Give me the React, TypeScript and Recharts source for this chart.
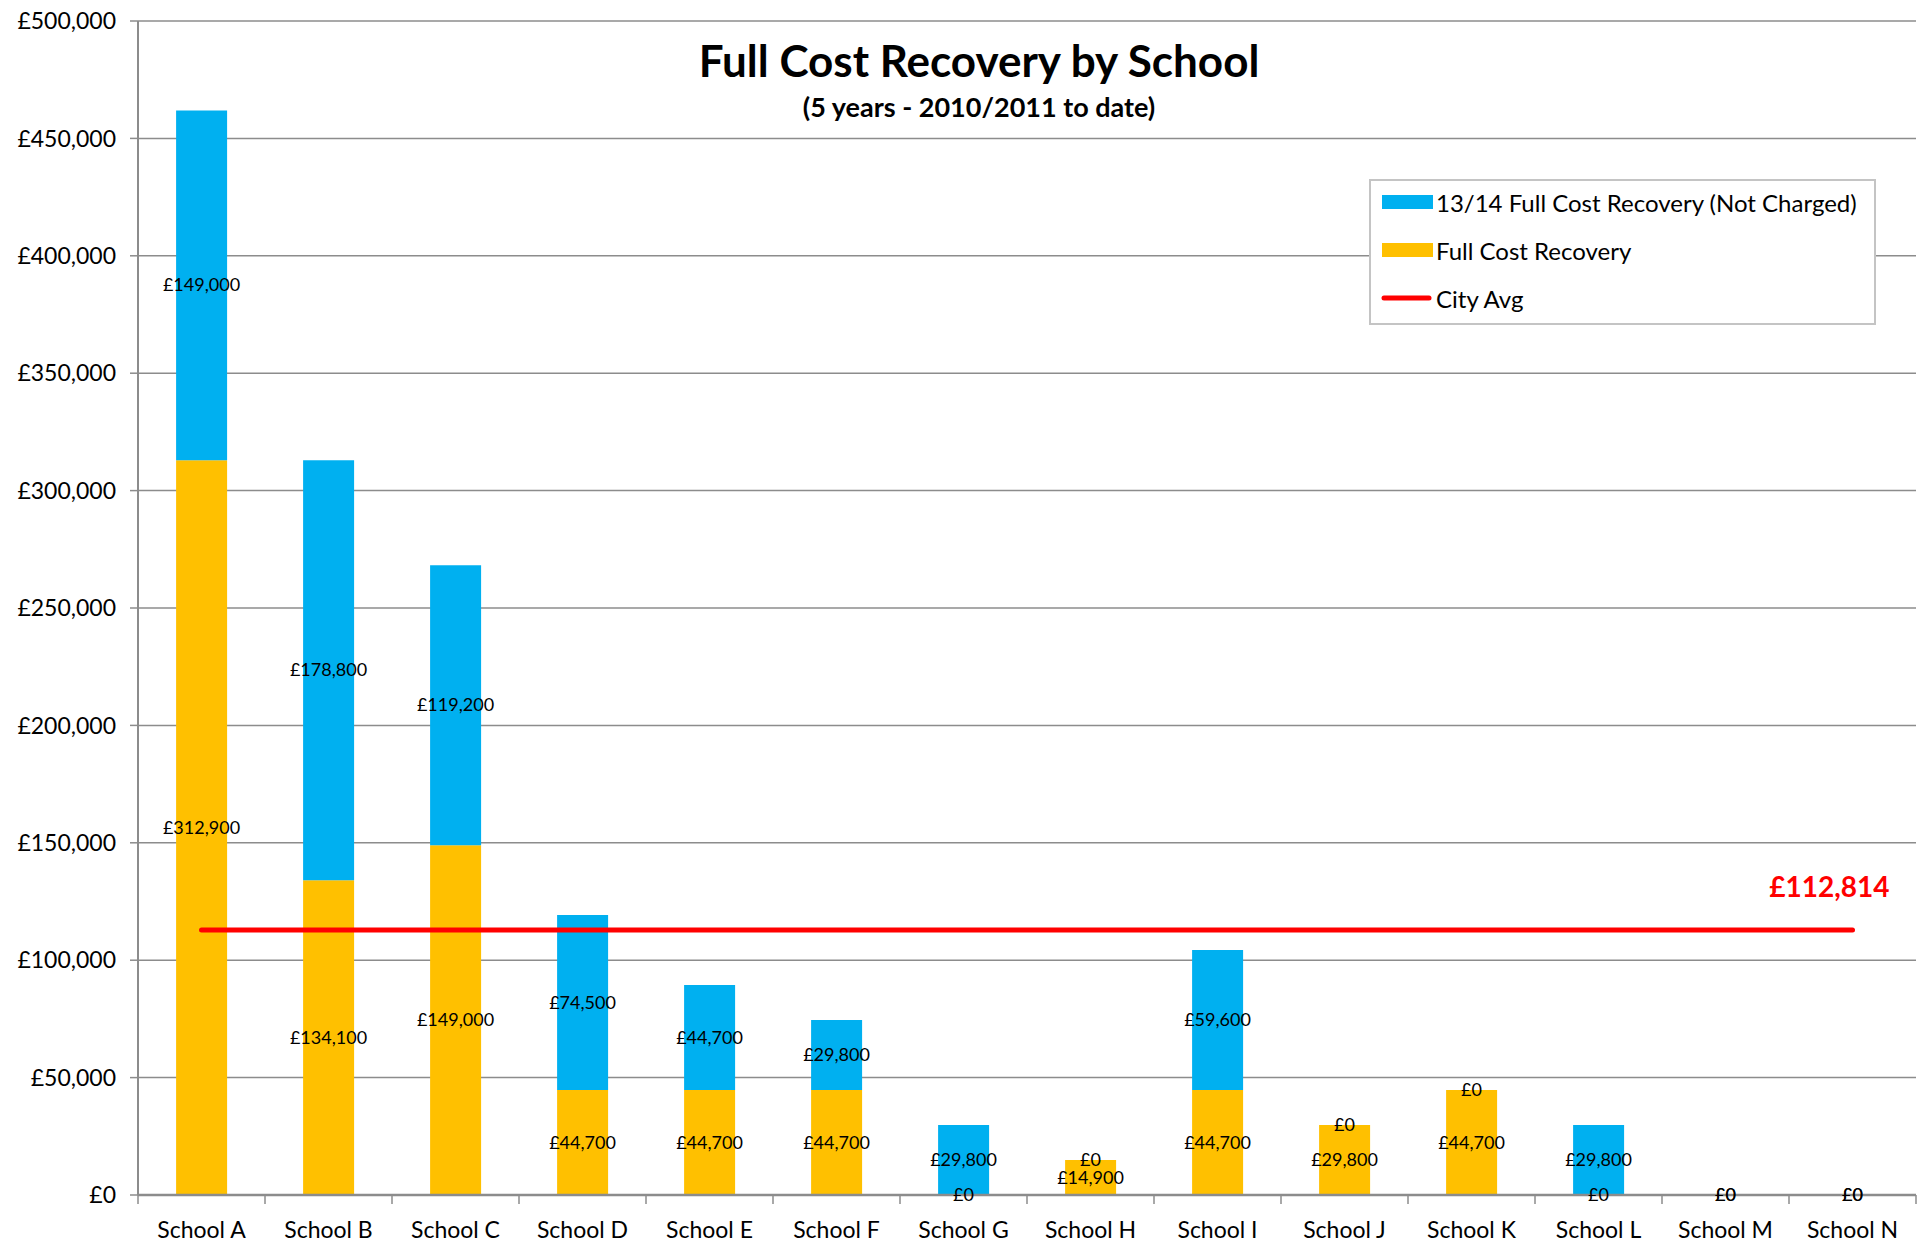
import React from 'react';
import {
  ComposedChart,
  Bar,
  Line,
  XAxis,
  YAxis,
  CartesianGrid,
} from 'recharts';

const schools = [
  'School A', 'School B', 'School C', 'School D', 'School E', 'School F', 'School G',
  'School H', 'School I', 'School J', 'School K', 'School L', 'School M', 'School N',
];
// charged full cost recovery (bottom, orange)
const fullCostRecovery = [312900, 134100, 149000, 44700, 44700, 44700, 0, 14900, 44700, 29800, 44700, 0, 0, 0];
// 13/14 not charged (top, blue)
const notCharged = [149000, 178800, 119200, 74500, 44700, 29800, 29800, 0, 59600, 0, 0, 29800, 0, 0];
const cityAvg = 112814;
const yTicks = [0, 50000, 100000, 150000, 200000, 250000, 300000, 350000, 400000, 450000, 500000];

// label anchors sit at the middle of each stacked segment (Excel "center" labels),
// zero segments included, which Recharts' LabelList skips
const data = schools.map((school, i) => ({
  school,
  fcr: fullCostRecovery[i],
  notCharged: notCharged[i],
  avg: cityAvg,
  fcrMid: fullCostRecovery[i] / 2,
  ncMid: fullCostRecovery[i] + notCharged[i] / 2,
}));

const FONT = 'Lato, "Open Sans", sans-serif';
const BLUE = '#00B0F0';
const ORANGE = '#FFC000';
const RED = '#FF0000';
const GRID = '#8c8c8c';

const money = (v: number) => '£' + v.toLocaleString('en-GB');

function SchoolTick(props: any) {
  const { x, y, payload, index } = props;
  const step = (Number(props.width) || 1778) / schools.length;
  return (
    <g>
      <line x1={x - step / 2} x2={x - step / 2} y1={y} y2={y + 9} stroke={GRID} strokeWidth={1.5} />
      {index === schools.length - 1 && (
        <line x1={x + step / 2} x2={x + step / 2} y1={y} y2={y + 9} stroke={GRID} strokeWidth={1.5} />
      )}
      <text x={x} y={y + 43} textAnchor="middle" fontSize={23} fill="#000" fontFamily={FONT}>
        {payload.value}
      </text>
    </g>
  );
}

const segLabel = (values: number[]) => (props: any) => {
  const { x, y, index } = props;
  return (
    <text x={x} y={y} dy={6} textAnchor="middle" fontSize={18} fill="#000" fontFamily={FONT}>
      {money(values[index])}
    </text>
  );
};

function AvgLabel(props: any) {
  const { x, y, index } = props;
  if (index !== schools.length - 1) return null;
  return (
    <text x={x + 37} y={y - 33} textAnchor="end" fontSize={28} fontWeight={700} fill={RED} fontFamily={FONT}>
      {money(cityAvg)}
    </text>
  );
}

function LegendBox() {
  const items = [
    { label: '13/14 Full Cost Recovery (Not Charged)', color: BLUE, line: false },
    { label: 'Full Cost Recovery', color: ORANGE, line: false },
    { label: 'City Avg', color: RED, line: true },
  ];
  return (
    <div
      style={{
        position: 'absolute',
        left: 1369,
        top: 179,
        width: 503,
        height: 142,
        background: '#fff',
        border: '2px solid #c4c4c4',
        fontFamily: FONT,
        fontSize: 24,
        color: '#000',
      }}
    >
      <div style={{ position: 'relative', top: -3 }}>
        {items.map((it, i) => (
          <div key={i} style={{ display: 'flex', alignItems: 'center', height: 48 }}>
            <svg width={66} height={20} style={{ marginLeft: 8 }}>
              {it.line ? (
                <line x1={5} x2={50} y1={10} y2={10} stroke={RED} strokeWidth={5} strokeLinecap="round" />
              ) : (
                <rect x={3} y={3} width={51} height={14} fill={it.color} />
              )}
            </svg>
            <span style={{ marginLeft: -9 }}>{it.label}</span>
          </div>
        ))}
      </div>
    </div>
  );
}

export default function App() {
  return (
    <div
      style={{
        position: 'absolute',
        left: 0,
        top: 0,
        width: 1928,
        height: 1258,
        background: '#fff',
        fontFamily: FONT,
      }}
    >
      <ComposedChart
        width={1928}
        height={1258}
        data={data}
        margin={{ top: 21, right: 12, left: 0, bottom: 0 }}
        barCategoryGap="30%"
      >
        <CartesianGrid vertical={false} stroke={GRID} strokeWidth={1.5} />
        <XAxis
          dataKey="school"
          height={63}
          axisLine={{ stroke: GRID, strokeWidth: 2.5 }}
          tickLine={false}
          tickSize={0}
          tickMargin={0}
          interval={0}
          tick={<SchoolTick />}
        />
        <YAxis
          width={138}
          domain={[0, 500000]}
          ticks={yTicks}
          interval={0}
          tickFormatter={money}
          axisLine={{ stroke: GRID, strokeWidth: 2 }}
          tickLine={{ stroke: GRID, strokeWidth: 1.5 }}
          tickSize={8}
          tickMargin={14}
          tick={{ fontSize: 23, fill: '#000', fontFamily: FONT }}
        />
        <Bar dataKey="fcr" stackId="a" fill={ORANGE} isAnimationActive={false} />
        <Bar dataKey="notCharged" stackId="a" fill={BLUE} isAnimationActive={false} />
        <Line
          dataKey="avg"
          stroke={RED}
          strokeWidth={5}
          strokeLinecap="round"
          dot={false}
          activeDot={false}
          isAnimationActive={false}
          label={<AvgLabel />}
        />
        <Line
          dataKey="fcrMid"
          stroke="none"
          dot={false}
          activeDot={false}
          isAnimationActive={false}
          label={segLabel(fullCostRecovery)}
        />
        <Line
          dataKey="ncMid"
          stroke="none"
          dot={false}
          activeDot={false}
          isAnimationActive={false}
          label={segLabel(notCharged)}
        />
      </ComposedChart>
      <LegendBox />
      <div
        style={{
          position: 'absolute',
          left: 0,
          width: 1958,
          top: 34,
          textAlign: 'center',
          fontSize: 44,
          fontWeight: 700,
          color: '#000',
          lineHeight: '52px',
        }}
      >
        Full Cost Recovery by School
      </div>
      <div
        style={{
          position: 'absolute',
          left: 0,
          width: 1958,
          top: 91,
          textAlign: 'center',
          fontSize: 27,
          fontWeight: 700,
          color: '#000',
          lineHeight: '32px',
        }}
      >
        (5 years - 2010/2011 to date)
      </div>
    </div>
  );
}
